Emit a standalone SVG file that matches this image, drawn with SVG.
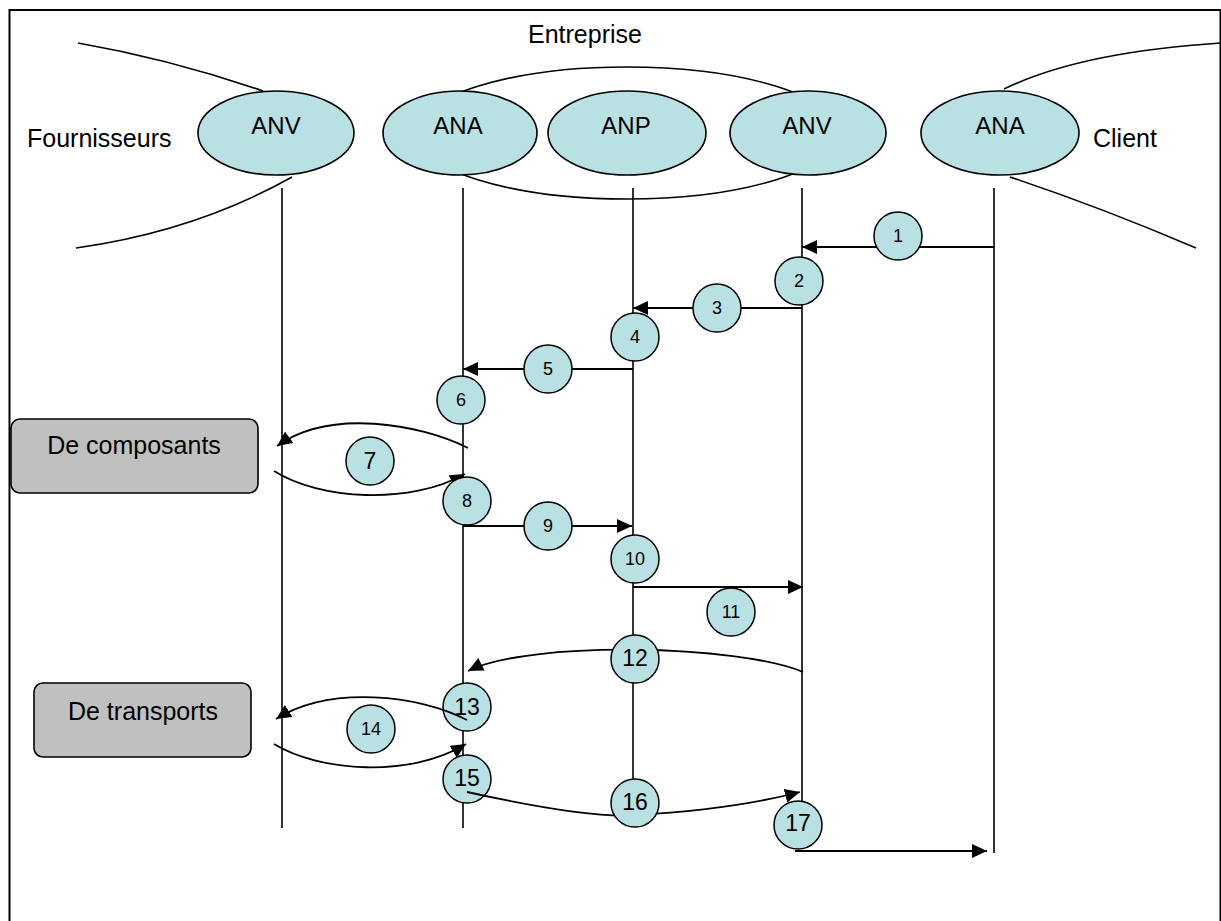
<svg xmlns="http://www.w3.org/2000/svg" width="1221" height="921" viewBox="0 0 1221 921">
<style>
.t{font-family:"Liberation Sans",Arial,sans-serif;fill:#000}
.lbl{font-size:25px}
.el{fill:#B9E0E3;stroke:#000;stroke-width:1.6}
.ell{font-size:24px;text-anchor:middle}
.c{fill:#B9E0E3;stroke:#000;stroke-width:1.5}
.ns{font-size:18px;text-anchor:middle}
.nl{font-size:23px;text-anchor:middle}
.ln{fill:none;stroke:#000;stroke-width:1.6}
.ar{fill:none;stroke:#000;stroke-width:1.8;marker-end:url(#ah)}
.bx{fill:#C0C0C0;stroke:#000;stroke-width:1.6}
</style>
<defs>
<marker id="ah" markerUnits="userSpaceOnUse" markerWidth="16" markerHeight="14" refX="15" refY="7" orient="auto">
<path d="M0,0 L15,7 L0,14 z" fill="#000"/>
</marker>
</defs>
<rect x="0" y="0" width="1221" height="921" fill="#fff"/>
<rect id="frame" x="9.5" y="10" width="1211" height="930" fill="none" stroke="#000" stroke-width="2"/>

<g id="boundaries">
<path class="ln" d="M78,43 Q170,59 263,91"/>
<path class="ln" d="M292,177 Q196,231 76,248"/>
<path class="ln" d="M1004,89 Q1080,52 1221,43"/>
<path class="ln" d="M1010,177 Q1100,207 1196,248"/>
<ellipse id="entreprise-boundary" cx="627" cy="133" rx="211" ry="66" fill="none" stroke="#000" stroke-width="1.6"/>
</g>

<g id="labels">
<text class="t lbl" x="585" y="43" text-anchor="middle">Entreprise</text>
<text class="t lbl" x="27" y="147">Fournisseurs</text>
<text class="t lbl" x="1093" y="147">Client</text>
</g>

<g id="lifelines">
<line class="ln" x1="282" y1="188" x2="282" y2="828"/>
<line class="ln" x1="463" y1="188" x2="463" y2="828"/>
<line class="ln" x1="633" y1="188" x2="633" y2="790"/>
<line class="ln" x1="802" y1="188" x2="802" y2="810"/>
<line class="ln" x1="994" y1="188" x2="994" y2="853"/>
</g>

<g id="node-anv-f"><ellipse class="el" cx="276" cy="133" rx="78" ry="42"/><text class="t ell" x="276" y="134">ANV</text></g>
<g id="node-ana-e"><ellipse class="el" cx="460" cy="133" rx="77" ry="42"/><text class="t ell" x="458" y="134">ANA</text></g>
<g id="node-anp-e"><ellipse class="el" cx="627" cy="133" rx="79" ry="42"/><text class="t ell" x="626" y="134">ANP</text></g>
<g id="node-anv-e"><ellipse class="el" cx="808" cy="133" rx="78" ry="42"/><text class="t ell" x="807" y="134">ANV</text></g>
<g id="node-ana-c"><ellipse class="el" cx="1000" cy="133" rx="79" ry="42"/><text class="t ell" x="1000" y="134">ANA</text></g>

<g id="node-composants"><rect class="bx" x="11" y="419" width="247" height="74" rx="9"/><text class="t lbl" x="134" y="454" text-anchor="middle">De composants</text></g>
<g id="node-transports"><rect class="bx" x="34" y="683" width="217" height="74" rx="9"/><text class="t lbl" x="143" y="720" text-anchor="middle">De transports</text></g>

<g id="step-13"><circle class="c" cx="467" cy="707" r="24"/><text class="t nl" x="467" y="715">13</text></g>
<g id="step-15"><circle class="c" cx="467" cy="779" r="24"/><text class="t nl" x="467" y="786">15</text></g>

<g id="connectors">
<line class="ar" x1="994" y1="247" x2="802" y2="247"/>
<line class="ar" x1="802" y1="308" x2="633" y2="308"/>
<line class="ar" x1="633" y1="369" x2="463" y2="369"/>
<path class="ar" d="M468,448 C420,424 330,408 277,446"/>
<path class="ar" d="M274,471 C320,500 410,505 465,474"/>
<line class="ar" x1="463" y1="526" x2="632" y2="526"/>
<line class="ar" x1="633" y1="587" x2="803" y2="587"/>
<path class="ar" d="M803,672 C740,645 530,640 468,671"/>
<path class="ar" d="M467,720 C420,695 330,685 276,719"/>
<path class="ar" d="M274,744 C320,772 410,778 466,744"/>
<path class="ar" d="M467,792 C540,808 600,818 635,815 C690,812 750,805 800,792"/>
<line class="ar" x1="795" y1="851" x2="987" y2="851"/>
</g>

<g id="step-1"><circle class="c" cx="898" cy="236" r="24"/><text class="t ns" x="898" y="242">1</text></g>
<g id="step-2"><circle class="c" cx="799" cy="281" r="24"/><text class="t ns" x="799" y="287">2</text></g>
<g id="step-3"><circle class="c" cx="717" cy="308" r="24"/><text class="t ns" x="717" y="314">3</text></g>
<g id="step-4"><circle class="c" cx="635" cy="337" r="24"/><text class="t ns" x="635" y="343">4</text></g>
<g id="step-5"><circle class="c" cx="548" cy="369" r="24"/><text class="t ns" x="548" y="375">5</text></g>
<g id="step-6"><circle class="c" cx="461" cy="400" r="24"/><text class="t ns" x="461" y="406">6</text></g>
<g id="step-7"><circle class="c" cx="370" cy="461" r="24"/><text class="t nl" x="370" y="469">7</text></g>
<g id="step-8"><circle class="c" cx="467" cy="501" r="24"/><text class="t ns" x="467" y="507">8</text></g>
<g id="step-9"><circle class="c" cx="548" cy="526" r="24"/><text class="t ns" x="548" y="532">9</text></g>
<g id="step-10"><circle class="c" cx="635" cy="559" r="24"/><text class="t ns" x="635" y="565">10</text></g>
<g id="step-11"><circle class="c" cx="731" cy="612" r="24"/><text class="t ns" x="731" y="618">11</text></g>
<g id="step-12"><circle class="c" cx="635" cy="659" r="24"/><text class="t nl" x="635" y="666">12</text></g>
<g id="step-14"><circle class="c" cx="371" cy="729" r="24"/><text class="t ns" x="371" y="735">14</text></g>
<g id="step-16"><circle class="c" cx="635" cy="803" r="24"/><text class="t nl" x="635" y="810">16</text></g>
<g id="step-17"><circle class="c" cx="798" cy="825" r="24"/><text class="t nl" x="798" y="831">17</text></g>
</svg>
